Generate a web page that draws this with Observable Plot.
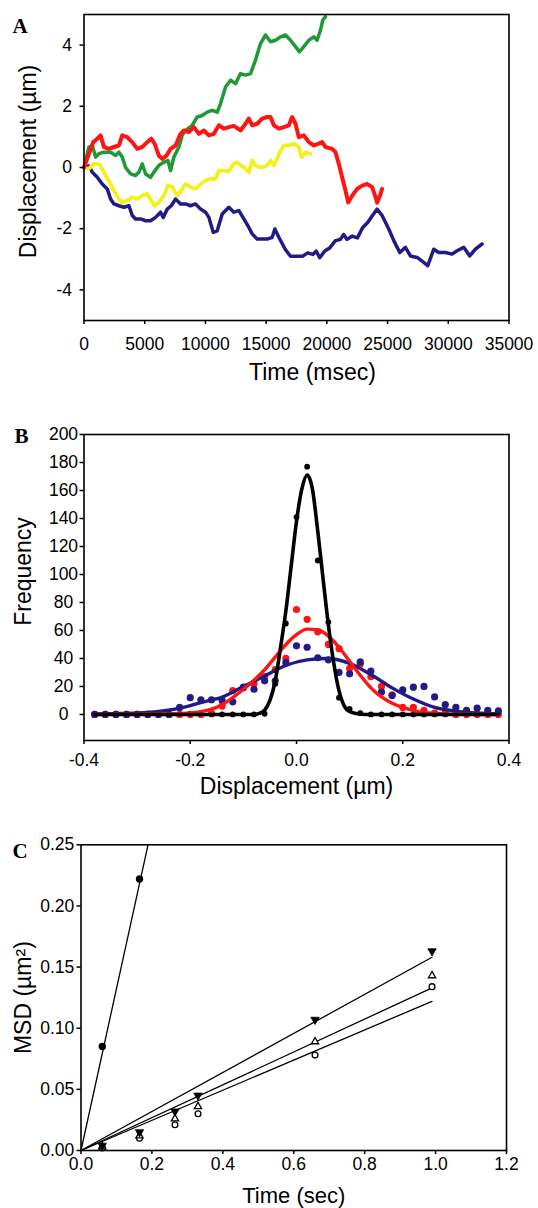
<!DOCTYPE html>
<html>
<head>
<meta charset="utf-8">
<script src="https://cdn.jsdelivr.net/npm/d3@7"></script>
<script src="https://cdn.jsdelivr.net/npm/@observablehq/plot@0.6"></script>
<style>
  html, body { margin: 0; padding: 0; background: #fff; }
  #chart { width: 538px; height: 1208px; position: relative; overflow: hidden; }
  #chart svg { display: block; }
</style>
</head>
<body>
<div id="chart"></div>
<script>
// ---------------- Panel A: displacement traces ----------------
const greenTime = [0,406,680,955,1229,1640,2190,2600,2876,3150,3424,3836,4248,4522,4796,5071,5482,5757,6168,6580,6910,7129,7403,7815,8089,8364,8912,9324,9736,10147,10559,10971,11245,11656,12067,12478,12890,13301,13713,14125,14536,14948,15359,15771,16183,16594,17006,17417,17746,18103,18515,18927,19200,19475,19667,19887];
const greenDisp = [0,0.67,0.72,0.34,0.45,0.5,0.5,0.39,0.5,0.34,0.0,-0.21,-0.26,-0.15,0.12,-0.21,-0.32,-0.15,0.07,0.17,0.23,-0.1,0.34,0.67,1.05,1.21,1.38,1.65,1.7,1.81,1.87,1.81,2.09,2.63,2.85,2.74,3.07,3.02,3.07,3.51,4.05,4.33,4.11,4.16,4.27,4.33,4.16,3.95,3.78,3.95,4.16,4.27,4.16,4.49,4.82,4.93];

const redTime = [0,406,763,1092,1366,1640,2052,2464,2876,3150,3562,3973,4385,4796,5208,5537,5811,6168,6443,6799,7129,7541,7952,8227,8638,9050,9461,9873,10284,10696,11108,11519,11931,12341,12890,13301,13575,13850,14262,14673,15085,15359,15634,16045,16457,16869,17143,17417,17692,18103,18515,18927,19338,19612,19887,20436,20710,20984,21259,21533,21753,22084,22496,22907,23319,23730,24000,24140,24350,24550];
const redDisp = [0,0.45,0.83,0.94,1.05,0.67,0.61,0.67,0.72,1.05,0.99,0.83,0.61,0.67,0.83,0.94,0.78,0.39,0.28,0.39,0.61,0.72,1.1,1.21,1.16,1.32,1.1,1.21,1.05,1.1,1.38,1.27,1.32,1.36,1.21,1.43,1.6,1.38,1.43,1.6,1.65,1.65,1.38,1.27,1.32,1.38,1.65,1.43,0.99,1.05,0.83,0.72,0.78,0.83,0.67,0.61,0.5,0.12,-0.32,-0.75,-1.14,-0.92,-0.7,-0.59,-0.54,-0.64,-0.95,-1.15,-0.95,-0.7];

const yellowTime = [0,406,818,1229,1504,1778,2190,2601,2876,3150,3562,3973,4385,4796,5208,5537,5811,6168,6580,6909,7266,7678,8089,8364,8775,9187,9598,10010,10422,10833,11108,11519,11931,12341,12615,12890,13164,13575,13850,14124,14399,14810,15085,15359,15634,15908,16183,16457,16869,17280,17692,17911,18241,18652];
const yellowDisp = [0,-0.04,0.12,0.12,-0.04,-0.26,-0.54,-0.86,-1.03,-1.14,-1.08,-0.97,-1.03,-0.92,-0.86,-1.08,-1.25,-1.14,-0.92,-0.59,-0.64,-0.92,-0.7,-0.54,-0.64,-0.7,-0.54,-0.43,-0.37,-0.37,-0.1,-0.1,-0.12,0.12,0.17,0.07,0.01,-0.15,0.23,0.07,0.01,0.01,0.07,0.23,0.07,0.28,0.56,0.72,0.72,0.78,0.67,0.34,0.5,0.45];

const navyTime = [0,406,680,1092,1504,1915,2190,2464,2876,3287,3699,3973,4248,4659,5071,5482,5894,6305,6525,6854,7183,7541,7952,8364,8775,9187,9598,10010,10285,10641,10971,11382,11931,12341,12752,13164,13575,13850,14262,14673,15085,15497,15716,16045,16583,17007,17430,17995,18419,18843,19125,19408,19831,20255,20679,21103,21385,21668,22092,22515,22939,23363,23786,24139,24550,25099,25511,26005,26471,26883,27432,27981,28310,28804,29216,29764,30313,30725,31274,31768,32234,32783];
const navyDisp = [0,0.05,-0.15,-0.32,-0.54,-0.7,-1.03,-1.19,-1.25,-1.3,-1.25,-1.57,-1.68,-1.68,-1.74,-1.74,-1.63,-1.46,-1.63,-1.36,-1.25,-1.03,-1.19,-1.19,-1.25,-1.19,-1.36,-1.46,-1.63,-2.12,-2.07,-1.52,-1.3,-1.46,-1.41,-1.68,-1.96,-2.17,-2.34,-2.34,-2.34,-2.28,-2.01,-2.28,-2.68,-2.9,-2.9,-2.9,-2.79,-2.84,-2.73,-2.95,-2.73,-2.62,-2.4,-2.35,-2.19,-2.35,-2.24,-2.3,-1.97,-1.8,-1.55,-1.36,-1.57,-2.01,-2.39,-2.78,-2.61,-2.89,-2.94,-3.1,-3.21,-2.67,-2.78,-2.78,-2.83,-2.72,-2.61,-2.89,-2.67,-2.5];

const ticksA_x = [0,5000,10000,15000,20000,25000,30000,35000];
const ticksA_y = [-4,-2,0,2,4];

// ---------------- Panel B: displacement histograms ----------------
const bins = [-0.38,-0.36,-0.34,-0.32,-0.30,-0.28,-0.26,-0.24,-0.22,-0.20,-0.18,-0.16,-0.14,-0.12,-0.10,-0.08,-0.06,-0.04,-0.02,0.00,0.02,0.04,0.06,0.08,0.10,0.12,0.14,0.16,0.18,0.20,0.22,0.24,0.26,0.28,0.30,0.32,0.34,0.36,0.38];
const blackCounts = [0,0,0,0,0,0,0,0,0,0,0,0,0,0,0,0,0.5,22,65,141,177,110,66,12,4,1,0,0,0,0,0,0,0,0,0,0,0,0,0];
const redCounts = [0,0,0,0,0,0,0,0,0,0,0,1,6,17,19,22,27,32,40,75,68,59,50,47,33,36,27,20,14,5,5,3,1,1,0,0,0,0,0];
const navyCounts = [0,0,0,0,0,0,0,0,5,12,10.5,10.5,10,9,19.5,18,24,24,37,49,48,40.5,39,30,29,37.5,31,16,13.5,17.5,19.5,20,12.5,7,5,3,4.5,3,2.5];

const blackFitX = [-0.38,-0.12,-0.10,-0.08,-0.07,-0.06,-0.05,-0.04,-0.03,-0.02,-0.01,0,0.01,0.02,0.03,0.04,0.05,0.06,0.07,0.08,0.09,0.10,0.12,0.14,0.38];
const blackFitY = [0,0,0,0,0.8,3,10,24,48,74,106,138,161,171,161,131,97,64,37,17,6,2,0.2,0,0];
const redFitX = [-0.38,-0.24,-0.20,-0.18,-0.16,-0.14,-0.12,-0.10,-0.08,-0.06,-0.04,-0.02,0,0.02,0.04,0.06,0.08,0.10,0.12,0.14,0.16,0.18,0.20,0.22,0.24,0.28,0.32,0.38];
const redFitY = [0,0.3,1,2,3.8,7,12,18,24.5,32,41,50,57,61,60.5,56,48,38,28,19,12.5,8,5,2.8,1.5,0.4,0.1,0];
const navyFitX = [-0.38,-0.34,-0.30,-0.26,-0.22,-0.18,-0.14,-0.10,-0.06,-0.02,0.02,0.06,0.10,0.14,0.18,0.22,0.26,0.30,0.34,0.38];
const navyFitY = [0.3,0.6,1.1,2.2,4.5,8.5,12.5,20,27.5,35,39,40,36.5,28.5,19,11,5,2.4,1.1,0.5];

const ticksB_x = [-0.4,-0.2,0,0.2,0.4];
const ticksB_y = [0,20,40,60,80,100,120,140,160,180,200];

// ---------------- Panel C: mean square displacement ----------------
const fastTime = [0.06,0.165];
const fastMSD = [0.085,0.222];
const lagTime = [0.06,0.165,0.265,0.33,0.66,0.99];
const downMSD = [0.004,0.015,0.032,0.045,0.107,0.163];
const upMSD = [0.003,0.012,0.026,0.036,0.089,0.143];
const openMSD = [0.002,0.010,0.021,0.030,0.078,0.134];
// fitted lines: [start time, end time] and [start MSD, end MSD]
const fastFitT = [0,0.189], fastFitY = [0,0.25];
const downFitT = [0,0.99], downFitY = [0,0.158];
const upFitT = [0,0.99], upFitY = [0,0.133];
const openFitT = [0,0.99], openFitY = [0,0.122];

const ticksC_x = [0,0.2,0.4,0.6,0.8,1.0,1.2];
const ticksC_y = [0,0.05,0.10,0.15,0.20,0.25];

// ---------------- styling ----------------
const SANS = "'Liberation Sans', Arial, Helvetica, sans-serif";
const SERIF = "'Liberation Serif', 'Times New Roman', serif";
const TICK_FS = 17.5;
const TITLE_FS = 23;
const baseStyle = {fontFamily: SANS, fontSize: TICK_FS + "px", color: "#000", background: "#fff", overflow: "visible"};
const pairs = (xs, ys) => xs.map((x, i) => ({x, y: ys[i]}));
const sq3 = Math.sqrt(3);
const triangleDown = {
  draw(context, size) {
    const y = -Math.sqrt(size / (sq3 * 3));
    context.moveTo(0, -y * 2);
    context.lineTo(-sq3 * y, y);
    context.lineTo(sq3 * y, y);
    context.closePath();
  }
};

const COL = {green: "#1f9836", red: "#ff1414", yellow: "#f4f01e", navy: "#221a86"};

// Panel A
const plotA = Plot.plot({
  width: 538, height: 400,
  marginLeft: 83.5, marginRight: 29.5, marginTop: 14, marginBottom: 80,
  style: baseStyle,
  x: {domain: [0, 35000]},
  y: {domain: [-5, 5]},
  marks: [
    Plot.line(pairs(navyTime, navyDisp), {x: "x", y: "y", stroke: COL.navy, strokeWidth: 3.5, strokeLinejoin: "round"}),
    Plot.line(pairs(greenTime, greenDisp), {x: "x", y: "y", stroke: COL.green, strokeWidth: 3.5, strokeLinejoin: "round"}),
    Plot.line(pairs(yellowTime, yellowDisp), {x: "x", y: "y", stroke: COL.yellow, strokeWidth: 3.8, strokeLinejoin: "round"}),
    Plot.line(pairs(redTime, redDisp), {x: "x", y: "y", stroke: COL.red, strokeWidth: 4, strokeLinejoin: "round"}),
    Plot.frame({stroke: "#000", strokeWidth: 1.6}),
    Plot.axisX({ticks: ticksA_x, tickFormat: d => String(d), tickSize: 4, tickPadding: 12.7, strokeWidth: 1.5, label: null}),
    Plot.axisY({ticks: ticksA_y, tickFormat: d => String(d), tickSize: 4, tickPadding: 8, strokeWidth: 1.5, label: null}),
    Plot.text(["Time (msec)"], {frameAnchor: "bottom", dx: 16, dy: 43.3, lineAnchor: "top", fontSize: TITLE_FS}),
    Plot.text(["Displacement (µm)"], {frameAnchor: "left", dx: -64, dy: -6, rotate: -90, textAnchor: "middle", lineAnchor: "top", fontSize: TITLE_FS}),
    Plot.text(["A"], {frameAnchor: "top-left", dx: -71.5, dy: 4, lineAnchor: "top", textAnchor: "start", fontSize: 21, fontWeight: "bold", fontFamily: SERIF})
  ]
});

// Panel B
const plotB = Plot.plot({
  width: 538, height: 400,
  marginLeft: 83.5, marginRight: 29.5, marginTop: 34, marginBottom: 60,
  style: baseStyle,
  x: {domain: [-0.4, 0.4]},
  y: {domain: [-18.6, 200]},
  marks: [
    Plot.dot(bins, {x: bins, y: blackCounts, r: 2.9, fill: "#000"}),
    Plot.dot(bins, {x: bins, y: redCounts, r: 3.6, fill: COL.red}),
    Plot.dot(bins, {x: bins, y: navyCounts, r: 3.6, fill: COL.navy}),
    Plot.line(pairs(navyFitX, navyFitY), {x: "x", y: "y", stroke: COL.navy, strokeWidth: 3.4, curve: "monotone-x"}),
    Plot.line(pairs(redFitX, redFitY), {x: "x", y: "y", stroke: COL.red, strokeWidth: 3.4, curve: "monotone-x"}),
    Plot.line(pairs(blackFitX, blackFitY), {x: "x", y: "y", stroke: "#000", strokeWidth: 3.6, curve: "monotone-x"}),
    Plot.frame({stroke: "#000", strokeWidth: 1.6}),
    Plot.axisX({ticks: ticksB_x, tickFormat: d => d.toFixed(1), tickSize: 4, tickPadding: 9.3, strokeWidth: 1.5, label: null}),
    Plot.axisY({ticks: ticksB_y, tickFormat: d => String(d), tickSize: 4, tickPadding: 16.5, textAnchor: "middle", strokeWidth: 1.5, label: null}),
    Plot.text(["Displacement (µm)"], {frameAnchor: "bottom", dy: 36.7, lineAnchor: "top", fontSize: TITLE_FS}),
    Plot.text(["Frequency"], {frameAnchor: "left", dx: -69, dy: -16, rotate: -90, textAnchor: "middle", lineAnchor: "top", fontSize: TITLE_FS}),
    Plot.text(["B"], {frameAnchor: "top-left", dx: -69.5, dy: -6, lineAnchor: "top", textAnchor: "start", fontSize: 21, fontWeight: "bold", fontFamily: SERIF})
  ]
});

// Panel C
const plotC = Plot.plot({
  width: 538, height: 408,
  marginLeft: 80.5, marginRight: 32, marginTop: 44.3, marginBottom: 58,
  style: baseStyle,
  x: {domain: [0, 1.2]},
  y: {domain: [0, 0.25]},
  marks: [
    Plot.line(pairs(fastFitT, fastFitY), {x: "x", y: "y", stroke: "#000", strokeWidth: 1.3}),
    Plot.line(pairs(downFitT, downFitY), {x: "x", y: "y", stroke: "#000", strokeWidth: 1.3}),
    Plot.line(pairs(upFitT, upFitY), {x: "x", y: "y", stroke: "#000", strokeWidth: 1.3}),
    Plot.line(pairs(openFitT, openFitY), {x: "x", y: "y", stroke: "#000", strokeWidth: 1.3}),
    Plot.dot(pairs(lagTime, openMSD), {x: "x", y: "y", r: 2.9, fill: "#fff", stroke: "#000", strokeWidth: 1.3}),
    Plot.dot(pairs(lagTime, upMSD), {x: "x", y: "y", r: 2.7, symbol: "triangle", fill: "#fff", stroke: "#000", strokeWidth: 1.3}),
    Plot.dot(pairs(lagTime, downMSD), {x: "x", y: "y", r: 3.1, symbol: triangleDown, fill: "#000", stroke: "#000", strokeWidth: 0.8}),
    Plot.dot(pairs(fastTime, fastMSD), {x: "x", y: "y", r: 3.7, fill: "#000"}),
    Plot.frame({stroke: "#000", strokeWidth: 1.6}),
    Plot.axisX({ticks: ticksC_x, tickFormat: d => d.toFixed(1), tickSize: 4, tickPadding: 2.7, strokeWidth: 1.5, label: null}),
    Plot.axisY({ticks: ticksC_y, tickFormat: d => d.toFixed(2), tickSize: 4, tickPadding: 2.7, strokeWidth: 1.5, label: null}),
    Plot.text(["Time (sec)"], {frameAnchor: "bottom", dy: 36.5, lineAnchor: "top", fontSize: 22}),
    Plot.text(["MSD (µm²)"], {frameAnchor: "left", dx: -66, rotate: -90, textAnchor: "middle", lineAnchor: "top", fontSize: TITLE_FS}),
    Plot.text(["C"], {frameAnchor: "top-left", dx: -68.5, dy: -1.3, lineAnchor: "top", textAnchor: "start", fontSize: 21, fontWeight: "bold", fontFamily: SERIF})
  ]
});

const chart = document.getElementById("chart");
chart.append(plotA, plotB, plotC);
</script>
</body>
</html>
